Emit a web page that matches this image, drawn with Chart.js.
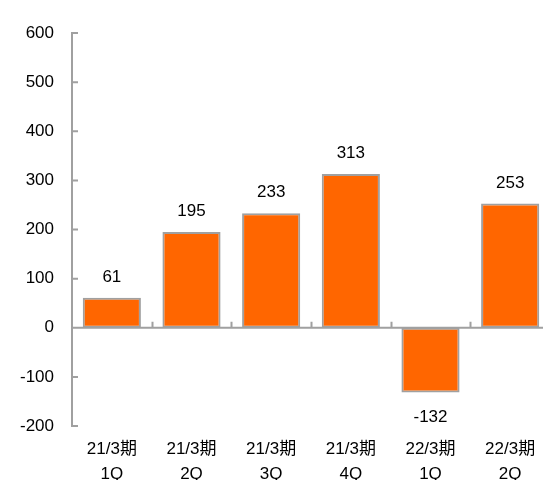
<!DOCTYPE html>
<html>
<head>
<meta charset="utf-8">
<script src="https://cdn.jsdelivr.net/npm/chart.js@4"></script>
<style>
  html, body { margin: 0; padding: 0; background: #fff; overflow: hidden; }
  #wrap { width: 551px; height: 480px; }
</style>
</head>
<body>
<div id="wrap"><canvas id="chart"></canvas></div>
<script>
// 四半期ごとの値
const categories = [["21/3期", "1Q"], ["21/3期", "2Q"], ["21/3期", "3Q"], ["21/3期", "4Q"], ["22/3期", "1Q"], ["22/3期", "2Q"]];
const values = [61, 195, 233, 313, -132, 253];
const yTicks = [-200, -100, 0, 100, 200, 300, 400, 500, 600];

const FONT = '"Liberation Sans", Arial, "Noto Sans CJK JP", sans-serif';
const AXIS_COLOR = "#a0a0a0";

// 0の線と内向きの目盛り、値ラベル
const axisPlugin = {
    id: "axisPlugin",
    afterDatasetsDraw(chart) {
        const ctx = chart.ctx;
        const x = chart.scales.x;
        const y = chart.scales.y;
        const area = chart.chartArea;
        const y0 = y.getPixelForValue(0);
        const half = (x.getPixelForValue(1) - x.getPixelForValue(0)) / 2;

        ctx.save();
        ctx.strokeStyle = AXIS_COLOR;
        ctx.lineWidth = 2;
        ctx.beginPath();
        ctx.moveTo(area.left, y0);
        ctx.lineTo(area.right, y0);
        categories.forEach((c, i) => {
            const bx = Math.round(x.getPixelForValue(i) + half) + 0.5;
            ctx.moveTo(bx, y0);
            ctx.lineTo(bx, y0 - 6);
        });
        yTicks.forEach(v => {
            const ty = y.getPixelForValue(v);
            ctx.moveTo(area.left, ty);
            ctx.lineTo(area.left + 6, ty);
        });
        ctx.stroke();

        ctx.fillStyle = "#000";
        ctx.font = "17px " + FONT;
        ctx.textAlign = "center";
        ctx.textBaseline = "middle";
        chart.getDatasetMeta(0).data.forEach((bar, i) => {
            const v = values[i];
            const ly = v >= 0 ? bar.y - 20.5 : bar.y + 25;
            ctx.fillText(String(v), bar.x, ly);
        });
        ctx.restore();
    }
};

new Chart(document.getElementById("chart").getContext("2d"), {
    type: "bar",
    data: {
        labels: categories,
        datasets: [{
            data: values,
            backgroundColor: "#ff6600",
            borderColor: AXIS_COLOR,
            borderWidth: 2,
            borderSkipped: false,
            barPercentage: 0.73,
            categoryPercentage: 1
        }]
    },
    options: {
        responsive: true,
        maintainAspectRatio: false,
        animation: false,
        layout: { padding: { top: 33, right: 1, left: 0, bottom: 0 } },
        plugins: {
            legend: { display: false },
            tooltip: { enabled: false }
        },
        scales: {
            x: {
                grid: { display: false, drawTicks: false },
                border: { display: false },
                ticks: {
                    color: "#000",
                    padding: 11,
                    maxRotation: 0,
                    autoSkip: false,
                    font: { family: FONT, size: 17, lineHeight: 1.47 }
                },
                afterFit(scale) { scale.height = 54; }
            },
            y: {
                min: -200,
                max: 600,
                grid: { display: false, drawTicks: false },
                border: { display: true, color: AXIS_COLOR, width: 2 },
                ticks: {
                    stepSize: 100,
                    color: "#000",
                    padding: 18,
                    font: { family: FONT, size: 17 }
                },
                afterFit(scale) { scale.width = 72; }
            }
        }
    },
    plugins: [axisPlugin]
});
</script>
</body>
</html>
